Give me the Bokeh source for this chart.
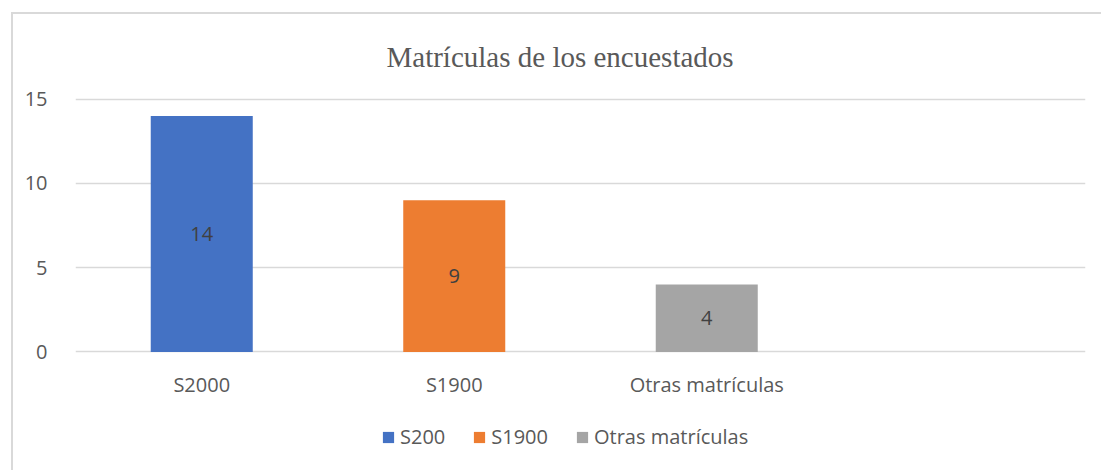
from bokeh.plotting import figure
from bokeh.layouts import column
from bokeh.models import Range1d, FactorRange, Legend, LegendItem, ColumnDataSource, FixedTicker
from bokeh.core.properties import value
from bokeh.embed import file_html
from bokeh.resources import INLINE

# ---- data ----
categories = ["S2000", "S1900", "Otras matrículas"]
counts = [14, 9, 4]
legend_labels = ["S200", "S1900", "Otras matrículas"]
colors = ["#4472c4", "#ed7d31", "#a5a5a5"]
y_ticks = [0, 5, 10, 15]
title_text = "Matrículas de los encuestados"

factors = categories + [" "]  # empty fourth slot on the category axis

src = ColumnDataSource(dict(
    cat=categories,
    val=counts,
    mid=[v / 2 for v in counts],
    txt=[str(v) for v in counts],
    color=colors,
))

p = figure(
    x_range=FactorRange(factors=factors, range_padding=0),
    y_range=Range1d(-0.15, 15.15),
    width=1088, height=390,
    output_backend="svg", toolbar_location=None,
    min_border_left=62, min_border_right=16,
    min_border_top=82, min_border_bottom=50,
)
p.outline_line_color = None
p.background_fill_color = "white"
p.border_fill_color = "white"

r = p.vbar(x="cat", top="val", bottom=0, width=0.404, source=src,
           fill_color="color", line_color=None)

p.text(x="cat", y="mid", text="txt", source=src, text_align="center",
       text_baseline="middle", text_font=value("Open Sans"),
       text_font_size="20px", text_color="#404040")

# axes
p.xgrid.grid_line_color = None
p.ygrid.grid_line_color = "#d9d9d9"
p.ygrid.grid_line_width = 1.3
p.yaxis.ticker = FixedTicker(ticks=y_ticks)
for ax in (p.xaxis[0], p.yaxis[0]):
    ax.axis_line_color = None
    ax.major_tick_line_color = None
    ax.minor_tick_line_color = None
    ax.major_label_text_font = "Open Sans"
    ax.major_label_text_font_size = "20px"
    ax.major_label_text_color = "#595959"
p.yaxis.major_label_standoff = 22
p.xaxis.major_label_standoff = 10

# title
p.title.text = title_text
p.title.align = "left"
p.title.offset = 311
p.title.standoff = 47
p.title.text_font = "Liberation Serif"
p.title.text_font_size = "29px"
p.title.text_font_style = "normal"
p.title.text_color = "#595959"

# ---- legend strip (separate small figure so the legend is not clipped) ----
pl = figure(
    x_range=FactorRange(factors=factors, range_padding=0),
    y_range=Range1d(0, 1),
    width=1088, height=66,
    output_backend="svg", toolbar_location=None,
    min_border=0, x_axis_location=None, y_axis_location=None,
)
pl.outline_line_color = None
pl.grid.visible = False
pl.background_fill_color = "white"
pl.border_fill_color = "white"
rl = pl.vbar(x="cat", top="val", bottom=0, width=0.404, source=src,
             fill_color="color", line_color=None, visible=False)

items = [LegendItem(label=lab, renderers=[rl], index=i) for i, lab in enumerate(legend_labels)]
leg = Legend(items=items, orientation="horizontal", location=(306, 20),
             glyph_width=14, glyph_height=14, label_standoff=5, spacing=27,
             padding=0, margin=0, border_line_color=None, background_fill_alpha=0,
             label_text_font="Open Sans", label_text_font_size="20px",
             label_text_color="#595959")
pl.add_layout(leg, "center")

layout = column(p, pl, spacing=0)
layout.margin = (12, 0, 0, 11)
layout.styles = {"border-left": "2px solid #d9d9d9", "border-top": "2px solid #d9d9d9"}

open("out.html", "w").write(file_html(layout, INLINE))
